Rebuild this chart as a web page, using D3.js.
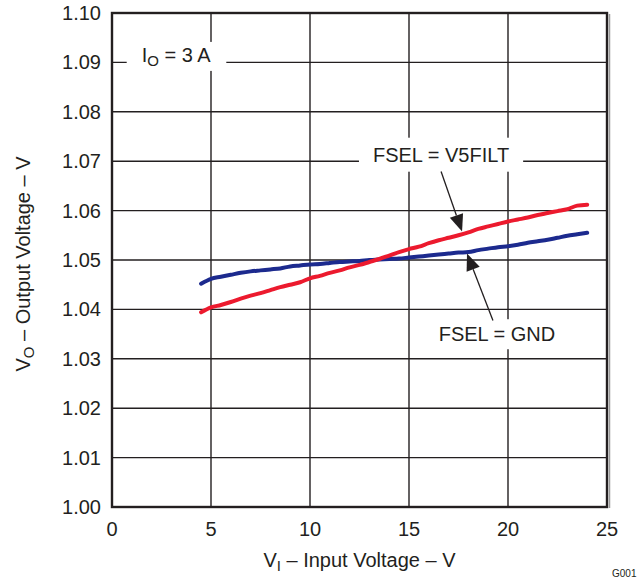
<!DOCTYPE html>
<html>
<head>
<meta charset="utf-8">
<script src="https://cdn.jsdelivr.net/npm/d3@7"></script>
<style>
  html, body { margin: 0; padding: 0; background: #fff; }
  svg { display: block; font-family: "Liberation Sans", Arial, Helvetica, sans-serif; }
</style>
</head>
<body>
<div id="viz"></div>
<script>
// Output voltage vs input voltage, IO = 3 A
const inputVoltage = [4.5, 5, 5.5, 6, 6.5, 7, 7.5, 8, 8.5, 9, 9.5, 10, 10.5, 11, 11.5, 12,
  12.5, 13, 13.5, 14, 14.5, 15, 15.5, 16, 16.5, 17, 17.5, 18, 18.5, 19, 19.5, 20,
  20.5, 21, 21.5, 22, 22.5, 23, 23.5, 24];
const voutV5filt = [1.0394, 1.0404, 1.0409, 1.0415, 1.0422, 1.0428, 1.0433, 1.0439, 1.0445, 1.0450,
  1.0455, 1.0463, 1.0468, 1.0474, 1.0479, 1.0485, 1.0490, 1.0496, 1.0502, 1.0509,
  1.0516, 1.0522, 1.0527, 1.0534, 1.0540, 1.0545, 1.0550, 1.0556, 1.0563, 1.0568,
  1.0573, 1.0578, 1.0582, 1.0586, 1.0591, 1.0595, 1.0599, 1.0603, 1.0610, 1.0612];
const voutGnd = [1.0452, 1.0462, 1.0466, 1.0470, 1.0474, 1.0477, 1.0479, 1.0481, 1.0483, 1.0487,
  1.0489, 1.0491, 1.0492, 1.0494, 1.0496, 1.0497, 1.0498, 1.0500, 1.0501, 1.0502,
  1.0503, 1.0505, 1.0507, 1.0509, 1.0511, 1.0513, 1.0515, 1.0516, 1.0520, 1.0523,
  1.0526, 1.0528, 1.0531, 1.0535, 1.0538, 1.0541, 1.0545, 1.0549, 1.0552, 1.0555];
const xTicks = [0, 5, 10, 15, 20, 25];
const yTicks = [1.00, 1.01, 1.02, 1.03, 1.04, 1.05, 1.06, 1.07, 1.08, 1.09, 1.10];

const W = 638, H = 580;
const margin = { top: 13, right: 31, bottom: 73, left: 112 };
const width = W - margin.left - margin.right;
const height = H - margin.top - margin.bottom;
const ink = "#231f20";
const fontSize = 20;

const svg = d3.select("#viz").append("svg")
  .attr("width", W).attr("height", H);
const g = svg.append("g")
  .attr("transform", `translate(${margin.left},${margin.top})`);

const x = d3.scaleLinear().domain([0, 25]).range([0, width]);
const y = d3.scaleLinear().domain([1.00, 1.10]).range([height, 0]);

// grid
g.append("g").selectAll("line").data(xTicks.slice(1, -1)).enter().append("line")
  .attr("x1", d => x(d)).attr("x2", d => x(d))
  .attr("y1", 0).attr("y2", height)
  .attr("stroke", ink).attr("stroke-width", 1.4);
g.append("g").selectAll("line").data(yTicks.slice(1, -1)).enter().append("line")
  .attr("x1", 0).attr("x2", width)
  .attr("y1", d => y(d)).attr("y2", d => y(d))
  .attr("stroke", ink).attr("stroke-width", 1.4);

// tick labels
g.append("g").selectAll("text").data(yTicks).enter().append("text")
  .attr("x", -11).attr("y", d => y(d) + 7)
  .attr("text-anchor", "end").attr("font-size", fontSize).attr("fill", ink)
  .text(d => d.toFixed(2));
g.append("g").selectAll("text").data(xTicks).enter().append("text")
  .attr("x", d => x(d)).attr("y", height + 29)
  .attr("text-anchor", "middle").attr("font-size", fontSize).attr("fill", ink)
  .text(d => d);

// curves
const line = d3.line()
  .x((d, i) => x(inputVoltage[i]))
  .y(d => y(d))
  .curve(d3.curveMonotoneX);
g.append("path").datum(voutGnd)
  .attr("fill", "none").attr("stroke", "#1c2a8e").attr("stroke-width", 4)
  .attr("stroke-linecap", "round").attr("d", line);
g.append("path").datum(voutV5filt)
  .attr("fill", "none").attr("stroke", "#ec1a2e").attr("stroke-width", 4)
  .attr("stroke-linecap", "round").attr("d", line);

// labels with white boxes over the grid
function boxedLabel(vx, vy, padX, padY, build) {
  const grp = g.append("g");
  const rect = grp.append("rect").attr("fill", "#fff");
  const t = grp.append("text")
    .attr("x", x(vx)).attr("y", y(vy))
    .attr("font-size", fontSize).attr("fill", ink);
  build(t);
  const bb = t.node().getBBox();
  rect.attr("x", bb.x - padX).attr("y", bb.y - padY)
    .attr("width", bb.width + 2 * padX).attr("height", bb.height + 2 * padY);
}
boxedLabel(1.5, 1.0901, 15, 2, t => {
  t.append("tspan").text("I");
  t.append("tspan").attr("font-size", 15).attr("dy", 4).text("O");
  t.append("tspan").attr("dy", -4).text(" = 3 A");
});
boxedLabel(13.18, 1.0699, 14, 6, t => t.text("FSEL = V5FILT"));
boxedLabel(16.5, 1.03356, 14, 4, t => t.text("FSEL = GND"));

// leader arrows
function arrow(from, to) {
  const x1 = x(from[0]), y1 = y(from[1]), x2 = x(to[0]), y2 = y(to[1]);
  const a = Math.atan2(y2 - y1, x2 - x1);
  const len = 17, half = 7;
  const bx = x2 - len * Math.cos(a), by = y2 - len * Math.sin(a);
  g.append("line")
    .attr("x1", x1).attr("y1", y1).attr("x2", bx).attr("y2", by)
    .attr("stroke", ink).attr("stroke-width", 1.3);
  const pts = [
    [x2, y2],
    [bx + half * Math.sin(a), by - half * Math.cos(a)],
    [bx - half * Math.sin(a), by + half * Math.cos(a)]
  ];
  g.append("polygon").attr("points", pts.map(p => p.join(",")).join(" "))
    .attr("fill", ink);
}
arrow([16.62, 1.06791], [17.68, 1.05577]);
arrow([19.24, 1.03775], [17.93, 1.05132]);

// frame
g.append("line")
  .attr("x1", width + 2.5).attr("x2", width + 2.5).attr("y1", 1).attr("y2", height + 1)
  .attr("stroke", "#9a9a9a").attr("stroke-width", 1.5);
g.append("rect")
  .attr("x", 0).attr("y", 0).attr("width", width).attr("height", height)
  .attr("fill", "none").attr("stroke", ink).attr("stroke-width", 2.4);

// axis titles
const xt = svg.append("text")
  .attr("x", margin.left + width / 2).attr("y", 567)
  .attr("text-anchor", "middle").attr("font-size", fontSize).attr("fill", ink);
xt.append("tspan").text("V");
xt.append("tspan").attr("font-size", 15).attr("dy", 4).text("I");
xt.append("tspan").attr("dy", -4).text(" \u2013 Input Voltage \u2013 V");

const yt = svg.append("text")
  .attr("transform", `translate(30,${margin.top + height / 2 + 4}) rotate(-90)`)
  .attr("text-anchor", "middle").attr("font-size", fontSize).attr("fill", ink);
yt.append("tspan").text("V");
yt.append("tspan").attr("font-size", 15).attr("dy", 4).text("O");
yt.append("tspan").attr("dy", -4).text(" \u2013 Output Voltage \u2013 V");

svg.append("text")
  .attr("x", 612).attr("y", 577)
  .attr("font-size", 10).attr("fill", ink)
  .text("G001");
</script>
</body>
</html>
